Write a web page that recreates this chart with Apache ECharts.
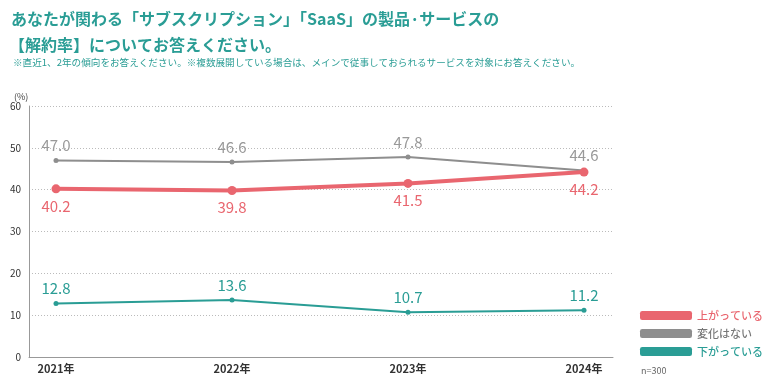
<!DOCTYPE html>
<html><head><meta charset="utf-8">
<script src="https://cdn.jsdelivr.net/npm/echarts@6/dist/echarts.min.js"></script>
<style>html,body{margin:0;padding:0;background:#fff}#c{width:770px;height:380px}</style>
</head><body><div id="c"></div>
<script>
const categories = ['2021年','2022年','2023年','2024年'];
const seriesNames = ['上がっている','変化はない','下がっている'];
const upValues = [40.2, 39.8, 41.5, 44.2];
const flatValues = [47.0, 46.6, 47.8, 44.6];
const downValues = [12.8, 13.6, 10.7, 11.2];
const yTicks = [0,10,20,30,40,50,60];

const RED = '#e9666f', GRAY = '#8e8e8e', TEAL = '#2a9d95';
const FONT = '"Noto Sans CJK JP", "Noto Sans", sans-serif';

const chart = echarts.init(document.getElementById('c'));
const lbl = (pos, color, extra) => Object.assign({show:true, position:pos, color:color, fontSize:15, fontFamily:FONT, fontWeight:'normal', formatter: p => p.value.toFixed(1)}, extra||{});

chart.setOption({
  animation:false,
  textStyle:{fontFamily:FONT},
  title:[
    {text:'あなたが関わる「サブスクリプション」「SaaS」の製品·サービスの', left:6, top:6, textStyle:{color:TEAL, fontSize:16, fontWeight:'bold', fontFamily:FONT}},
    {text:'【解約率】についてお答えください。', left:4, top:32, textStyle:{color:TEAL, fontSize:16, fontWeight:'bold', fontFamily:FONT}},
    {text:'※直近1、2年の傾向をお答えください。※複数展開している場合は、メインで従事しておられるサービスを対象にお答えください。', left:8, top:53, textStyle:{color:TEAL, fontSize:9.6, fontWeight:'normal', fontFamily:FONT}},
    {text:'(%)', left:9, top:87, textStyle:{color:'#444', fontSize:9, fontWeight:'normal', fontFamily:FONT}},
    {text:'n=300', left:636, top:361, textStyle:{color:'#666', fontSize:9, fontWeight:'normal', fontFamily:FONT}}
  ],
  legend:{
    orient:'vertical', left:635, top:305, itemWidth:52, itemHeight:9, itemGap:7, icon:'roundRect',
    data:[
      {name:seriesNames[0], textStyle:{color:RED}},
      {name:seriesNames[1], textStyle:{color:'#777'}},
      {name:seriesNames[2], textStyle:{color:TEAL}}
    ],
    textStyle:{fontSize:11, fontFamily:FONT, fontWeight:500}
  },
  grid:[
    {left:29, right:157, top:106, bottom:23},
    {left:56, right:186, top:106, bottom:23}
  ],
  xAxis:[
    {gridIndex:0, type:'category', data:categories, boundaryGap:true, axisLine:{show:true, lineStyle:{color:'#999', width:1}}, axisTick:{show:false}, axisLabel:{show:false}, splitLine:{show:false}},
    {gridIndex:1, type:'category', data:categories, boundaryGap:false, axisLine:{show:false}, axisTick:{show:false}, axisLabel:{show:true, color:'#333', fontSize:11, fontWeight:'bold', margin:6, fontFamily:FONT}}
  ],
  yAxis:[
    {gridIndex:0, type:'value', min:yTicks[0], max:yTicks[yTicks.length-1], interval:10, axisLine:{show:true, lineStyle:{color:'#999', width:1}}, axisTick:{show:false},
     axisLabel:{color:'#333', fontSize:10, margin:8}, splitLine:{show:true, lineStyle:{color:'#bbb', type:[1,2], width:1}}},
    {gridIndex:1, type:'value', min:yTicks[0], max:yTicks[yTicks.length-1], interval:10, show:false, splitLine:{show:false}}
  ],
  series:[
    {name:seriesNames[1], type:'line', xAxisIndex:1, yAxisIndex:1, data:flatValues, color:GRAY, symbol:'circle', symbolSize:5,
     lineStyle:{width:2, color:GRAY}, itemStyle:{color:GRAY}, label:lbl('top', '#999', {distance:5}), z:2},
    {name:seriesNames[0], type:'line', xAxisIndex:1, yAxisIndex:1, data:upValues, color:RED, symbol:'circle', symbolSize:9,
     lineStyle:{width:4, color:RED}, itemStyle:{color:RED}, label:lbl('bottom', RED, {distance:5}), z:3},
    {name:seriesNames[2], type:'line', xAxisIndex:1, yAxisIndex:1, data:downValues, color:TEAL, symbol:'circle', symbolSize:5,
     lineStyle:{width:2, color:TEAL}, itemStyle:{color:TEAL}, label:lbl('top', TEAL, {distance:5}), z:2}
  ]
});
</script></body></html>
